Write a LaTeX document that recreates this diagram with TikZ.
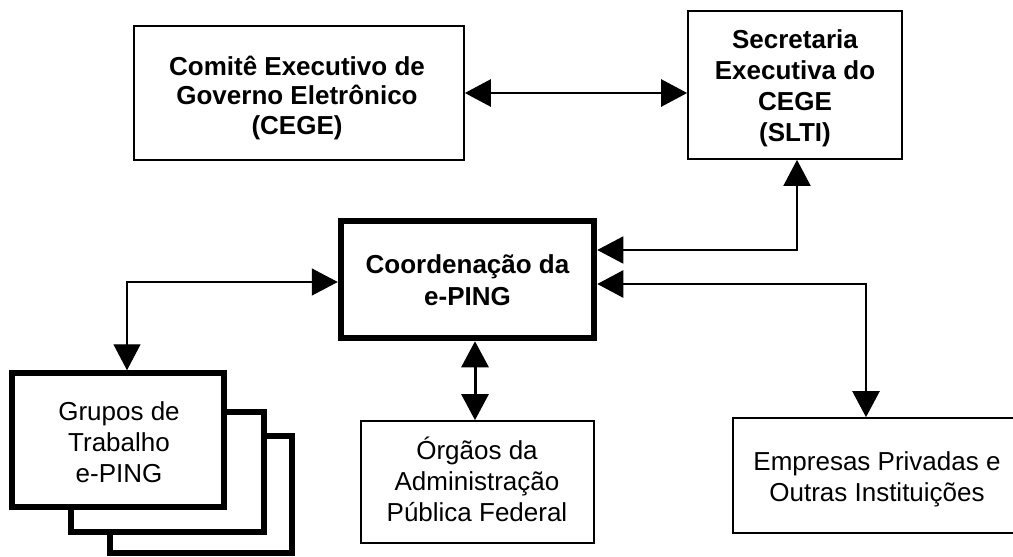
\documentclass[tikz,border=0pt]{standalone}
\usepackage{fontspec}
\setmainfont{Liberation Sans}
\usetikzlibrary{arrows.meta}
\begin{document}
\begin{tikzpicture}[x=1pt,y=-1pt,
  >={Triangle[length=26pt,width=27pt]},
  every node/.style={inner sep=0pt},
  boxthin/.style={draw, fill=white, line width=1.7pt, rectangle},
  boxheavy/.style={draw, fill=white, line width=6.5pt, rectangle},
  boxstack/.style={draw, fill=white, line width=5.5pt, rectangle},
  txt/.style={align=center, font=\fontsize{26}{31}\selectfont},
  btxt/.style={align=center, font=\fontsize{26}{31}\selectfont\bfseries},
  link/.style={line width=#1},
]
\useasboundingbox (0,0) rectangle (1013,557);
\fill[white] (0,0) rectangle (1013,557);

% boxes
\node[boxthin, minimum width=330pt, minimum height=134pt] (cege) at (299,93) {};
\node[boxthin, minimum width=214pt, minimum height=148pt] (slti) at (795,85) {};
\node[boxheavy, minimum width=253pt, minimum height=117pt] (coord) at (467.5,279.5) {};
\node[boxthin, minimum width=233pt, minimum height=122pt] (org) at (477.5,482) {};
\node[boxthin, minimum width=310pt, minimum height=115pt] (emp) at (888,475.5) {};
\node[boxstack, minimum width=182pt, minimum height=117pt] (grp3) at (201,494.5) {};
\node[boxstack, minimum width=193pt, minimum height=120pt] (grp2) at (167.5,472) {};
\node[boxstack, minimum width=212.25pt, minimum height=134pt] (grp1) at (117.9,440) {};

% texts
\node[btxt, font=\fontsize{26}{29.5}\selectfont\bfseries] (cege-t) at (297,97.6) {Comitê Executivo de\\Governo Eletrônico\\(CEGE)};
\node[btxt] (slti-t) at (795,88) {Secretaria\\Executiva do\\CEGE\\(SLTI)};
\node[btxt, font=\fontsize{26}{32}\selectfont\bfseries] (coord-t) at (467.5,280.7) {Coordenação da\\e-PING};
\node[txt] (org-t) at (477,479.3) {Órgãos da\\Administração\\Pública Federal};
\node[txt] (emp-t) at (877,479) {Empresas Privadas e\\Outras Instituições};
\node[txt] (grp-t) at (119,442.7) {Grupos de\\Trabalho\\e-PING};

% bend points
\coordinate (k1) at (797,250);
\coordinate (k2) at (127,282);
\coordinate (k3) at (866,284);
\coordinate (k4) at (475,380);

% connectors
\draw[link=2.7pt,<->] (cege.east) -- (slti.west |- cege.east);
\draw[link=1.7pt,<->] (slti.south -| k1) -- (k1) -- (k1 -| coord.east);
\draw[link=1.4pt,<->] (k2 -| coord.west) -- (k2) -- (k2 |- grp1.north);
\draw[link=2.5pt,<->] (k3 -| coord.east) -- (k3) -- (k3 |- emp.north);
\draw[link=3pt,<->] (k4 |- coord.south) -- (k4 |- org.north);
\end{tikzpicture}
\end{document}
